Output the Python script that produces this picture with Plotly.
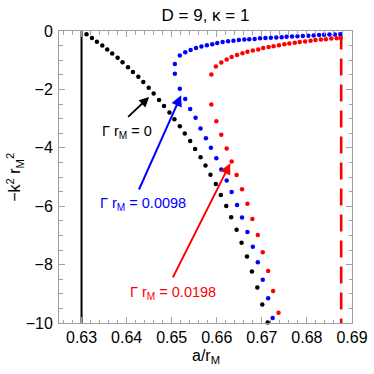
import plotly.graph_objects as go

# values (a/r_M, -k^2 r_M^2)
black_x = [0.6311, 0.6323, 0.6334, 0.6346, 0.6357, 0.6368, 0.6380, 0.6391, 0.6403,
           0.6414, 0.6426, 0.6437, 0.6449, 0.6460, 0.6472, 0.6483, 0.6495, 0.6506,
           0.6518, 0.6529, 0.6541, 0.6552, 0.6564, 0.6575, 0.6586, 0.6598, 0.6609,
           0.6621, 0.6632, 0.6644, 0.6655, 0.6667, 0.6678, 0.6690, 0.6701, 0.6713]
black_y = [-0.11, -0.24, -0.37, -0.50, -0.63, -0.77, -0.92, -1.07, -1.24,
           -1.40, -1.57, -1.75, -1.94, -2.14, -2.36, -2.57, -2.79, -3.02,
           -3.26, -3.51, -3.77, -4.04, -4.32, -4.61, -4.92, -5.24, -5.62,
           -5.99, -6.38, -6.81, -7.25, -7.72, -8.24, -8.78, -9.37, -9.98]

blue_upper_x = [0.6518, 0.6530, 0.6542, 0.6554, 0.6566, 0.6578, 0.6590, 0.6601,
                0.6613, 0.6625, 0.6637, 0.6649, 0.6661, 0.6672, 0.6684, 0.6696,
                0.6708, 0.6720, 0.6732, 0.6744, 0.6755, 0.6767, 0.6779, 0.6791,
                0.6803, 0.6815, 0.6827, 0.6838, 0.6850, 0.6862, 0.6874]
blue_upper_y = [-0.84, -0.73, -0.65, -0.58, -0.53, -0.49, -0.45, -0.41,
                -0.38, -0.35, -0.33, -0.31, -0.29, -0.28, -0.27, -0.25,
                -0.24, -0.23, -0.22, -0.21, -0.20, -0.19, -0.18, -0.17,
                -0.16, -0.15, -0.14, -0.13, -0.12, -0.12, -0.11]
blue_lower_x = [0.6507, 0.6507, 0.6518, 0.6530, 0.6541, 0.6553, 0.6564, 0.6576,
                0.6587, 0.6599, 0.6610, 0.6622, 0.6633, 0.6645, 0.6656, 0.6668,
                0.6680, 0.6691, 0.6702, 0.6714, 0.6724]
blue_lower_y = [-1.13, -1.46, -1.98, -2.33, -2.67, -2.97, -3.34, -3.67,
                -4.00, -4.36, -4.74, -5.12, -5.51, -5.96, -6.39, -6.88,
                -7.39, -7.92, -8.52, -9.15, -9.83]

red_upper_x = [0.6598, 0.6610, 0.6622, 0.6633, 0.6645, 0.6657, 0.6668, 0.6680,
               0.6692, 0.6703, 0.6715, 0.6726, 0.6738, 0.6750, 0.6761, 0.6773,
               0.6784, 0.6796, 0.6808, 0.6819, 0.6831, 0.6842, 0.6854, 0.6866,
               0.6875]
red_upper_y = [-1.22, -1.08, -0.98, -0.89, -0.82, -0.76, -0.71, -0.67,
               -0.63, -0.58, -0.55, -0.52, -0.49, -0.45, -0.43, -0.40,
               -0.38, -0.36, -0.33, -0.31, -0.29, -0.28, -0.26, -0.25,
               -0.24]
red_lower_x = [0.6588, 0.6588, 0.6599, 0.6610, 0.6622, 0.6633, 0.6644, 0.6656,
               0.6668, 0.6679, 0.6691, 0.6702, 0.6714, 0.6725, 0.6737]
red_lower_y = [-1.49, -2.52, -3.09, -3.55, -4.02, -4.47, -4.93, -5.42,
               -5.92, -6.44, -6.99, -7.58, -8.22, -8.90, -9.65]

a_left = 0.63      # black solid line
a_right = 0.6876   # red dashed line

x_ticks = [0.63, 0.64, 0.65, 0.66, 0.67, 0.68, 0.69]
y_ticks = [0, -2, -4, -6, -8, -10]

FONT = "Liberation Sans"
W = H = 374

fig = go.Figure()

# vertical reference lines
fig.add_trace(go.Scatter(x=[a_left, a_left], y=[0, -10], mode="lines",
                         line=dict(color="black", width=2), showlegend=False))
fig.add_trace(go.Scatter(x=[a_right, a_right], y=[-0.05, -10], mode="lines",
                         line=dict(color="#ff0000", width=2.6, dash="17px,9px"),
                         showlegend=False))

def dots(x, y, color):
    fig.add_trace(go.Scatter(x=x, y=y, mode="markers",
                             marker=dict(color=color, size=4.5, line=dict(width=0)),
                             showlegend=False, cliponaxis=False))

dots(black_x, black_y, "black")
dots(blue_upper_x, blue_upper_y, "#0000ff")
dots(blue_lower_x, blue_lower_y, "#0000ff")
dots(red_upper_x, red_upper_y, "#ff0000")
dots(red_lower_x, red_lower_y, "#ff0000")

# arrows (tip x,y ; tail ax,ay)
arrows = [
    (0.6450, -2.26, 0.6400, -2.99, "black", 1.8),
    (0.6521, -2.20, 0.6426, -5.48, "#0000ff", 2),
    (0.6630, -4.53, 0.6501, -8.49, "#ff0000", 2),
]
for x, y, ax, ay, c, w in arrows:
    fig.add_annotation(x=x, y=y, ax=ax, ay=ay, xref="x", yref="y", axref="x", ayref="y",
                       text="", showarrow=True, arrowhead=2, arrowsize=1.1,
                       arrowwidth=w, arrowcolor=c, standoff=0, startstandoff=0)

labels = [
    ("Γ r<sub>M</sub> = 0", 0.6400, -3.47, "black"),
    ("Γ r<sub>M</sub> = 0.0098", 0.6437, -5.93, "#0000ff"),
    ("Γ r<sub>M</sub> = 0.0198", 0.6502, -8.97, "#ff0000"),
]
for t, x, y, c in labels:
    fig.add_annotation(x=x, y=y, xref="x", yref="y", text=t, showarrow=False,
                       font=dict(family=FONT, size=14.5, color=c),
                       xanchor="center", yanchor="middle")

# axis titles
fig.add_annotation(x=-0.151, y=0.5, xref="paper", yref="paper",
                   text="−k<sup>2</sup> r<sub>M</sub><sup>2</sup>", textangle=-90,
                   showarrow=False, font=dict(family=FONT, size=16, color="black"),
                   xanchor="center", yanchor="middle")
fig.add_annotation(x=0.5, y=-0.114, xref="paper", yref="paper",
                   text="a/r<sub>M</sub>", showarrow=False,
                   font=dict(family=FONT, size=16, color="black"),
                   xanchor="center", yanchor="middle")

axis_common = dict(
    showgrid=False, zeroline=False, showline=True, linecolor="#a0a0a0", linewidth=1,
    mirror="allticks", ticks="inside", ticklen=6, tickwidth=1, tickcolor="#a0a0a0",
    tickfont=dict(family=FONT, size=16, color="black"), automargin=False,
)

fig.update_layout(
    width=W, height=H,
    margin=dict(l=59, r=22, t=31, b=51, autoexpand=False),
    plot_bgcolor="white", paper_bgcolor="white",
    title=dict(text="D = 9, κ = 1", x=0.5, xref="paper", xanchor="center",
               y=1 - 15 / H, yanchor="middle", automargin=False,
               font=dict(family=FONT, size=17, color="black")),
    xaxis=dict(range=[0.625, 0.69], tickvals=x_ticks,
               ticktext=[f"{v:.2f}" for v in x_ticks],
               minor=dict(dtick=0.002, tick0=0.63, ticks="inside", ticklen=3.5,
                          tickcolor="#a0a0a0"),
               **axis_common),
    yaxis=dict(range=[-10, 0], tickvals=y_ticks,
               minor=dict(dtick=0.5, tick0=0, ticks="inside", ticklen=3.5,
                          tickcolor="#a0a0a0"),
               ticklabelstandoff=2,
               **axis_common),
)

# drop the page's default body margin so the 374px figure fills the window
fig.write_html("out.html", config={"displayModeBar": False},
               post_script="document.body.style.margin='0';")
